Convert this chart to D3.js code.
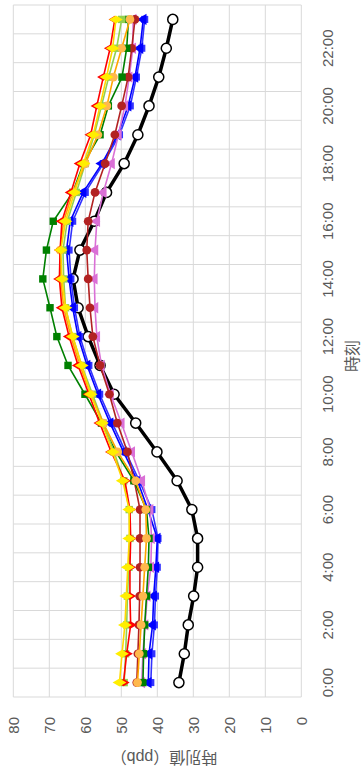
<!DOCTYPE html>
<html>
<head>
<meta charset="utf-8">
<script src="https://cdn.jsdelivr.net/npm/d3@7"></script>
<style>
  html, body { margin: 0; padding: 0; background: #ffffff; }
  svg { display: block; }
  text { font-family: "Liberation Sans", "Noto Sans CJK JP", sans-serif; fill: #595959; }
</style>
</head>
<body>
<svg id="chart" width="364" height="777"></svg>
<script>
// ---- data ----
const timeLabels = ["0:00","1:00","2:00","3:00","4:00","5:00","6:00","7:00","8:00","9:00","10:00","11:00",
                    "12:00","13:00","14:00","15:00","16:00","17:00","18:00","19:00","20:00","21:00","22:00","23:00"];
const tickLabels = ["0:00","2:00","4:00","6:00","8:00","10:00","12:00","14:00","16:00","18:00","20:00","22:00"];
const valueTicks = [0,10,20,30,40,50,60,70,80];

const seriesBlack   = [34.0,32.5,31.4,29.9,28.8,28.8,30.4,34.5,40.1,46.0,52.0,55.9,59.2,62.0,63.4,61.5,57.5,54.1,49.2,45.4,42.3,39.6,37.5,35.7];
const seriesBlue2   = [41.8,41.5,40.8,40.5,40.0,39.8,41.5,45.0,48.8,52.5,56.0,59.0,61.5,63.0,64.0,64.5,63.5,60.0,55.0,50.5,47.5,45.8,44.3,43.5];
const seriesBlue    = [42.5,42.3,41.3,41.0,40.4,40.0,42.6,45.5,49.4,53.1,56.5,59.5,62.0,63.5,64.5,65.2,64.2,60.6,55.4,51.0,48.1,46.2,44.8,43.9];
const seriesOrchid  = [44.3,44.0,43.4,42.8,41.8,41.6,42.0,44.3,47.1,50.0,53.0,55.5,56.8,57.3,57.5,57.3,56.8,55.0,52.7,50.8,49.0,47.8,46.8,46.7];
const seriesBrick   = [45.7,45.4,45.1,44.9,44.8,44.8,44.8,46.4,48.3,51.1,53.3,55.9,57.9,58.7,59.2,59.6,59.2,57.3,54.5,51.8,49.9,48.1,47.1,46.2];
const seriesGreen   = [44.0,43.8,43.5,43.0,42.5,42.3,43.0,46.5,51.5,55.5,60.1,64.8,67.9,69.8,71.8,70.8,68.9,63.5,60.5,55.9,53.6,49.8,48.5,48.0];
const seriesLtGreen = [49.2,48.8,48.5,48.3,47.9,47.6,47.8,49.3,52.0,55.0,58.0,61.0,63.5,65.5,66.0,66.2,65.0,62.5,60.0,57.5,55.5,53.5,51.3,49.9];
const seriesOrange  = [45.5,45.0,44.5,44.0,43.5,43.0,43.2,46.0,51.0,55.0,58.5,61.5,64.0,66.0,66.8,67.0,66.0,63.5,60.0,56.5,54.0,52.2,49.9,47.6];
const seriesRed     = [49.4,48.5,47.4,47.6,47.6,47.4,47.6,49.0,52.8,56.0,59.0,62.0,64.5,66.5,67.2,67.0,66.5,64.0,61.5,58.5,56.8,55.0,53.1,51.8];
const seriesYellow  = [50.5,49.8,49.0,48.6,48.2,47.8,47.8,49.6,52.4,55.4,58.5,61.0,63.5,65.5,66.5,66.8,65.5,63.0,60.5,57.8,55.9,54.1,52.4,51.5];

const series = [
  {values: seriesBlack,   color: "#000000", fill: "#ffffff", symbol: d3.symbolCircle,   size: 80, width: 3.5, mstroke: 1.5},
  {values: seriesBlue2,   color: "#3333ff", fill: "#3333ff", symbol: d3.symbolSquare,   size: 50, width: 1.6, mstroke: 0},
  {values: seriesBlue,    color: "#0000ff", fill: "#0000ff", symbol: d3.symbolTriangle, size: 55, width: 1.6, mstroke: 0},
  {values: seriesOrchid,  color: "#da70d6", fill: "#da70d6", symbol: d3.symbolTriangle, size: 55, width: 1.6, mstroke: 0},
  {values: seriesBrick,   color: "#b22222", fill: "#b22222", symbol: d3.symbolCircle,   size: 60, width: 1.6, mstroke: 0},
  {values: seriesGreen,   color: "#008000", fill: "#008000", symbol: d3.symbolSquare,   size: 55, width: 1.6, mstroke: 0},
  {values: seriesLtGreen, color: "#92d050", fill: "#92d050", symbol: d3.symbolSquare,   size: 55, width: 1.6, mstroke: 0},
  {values: seriesOrange,  color: "#ffa500", fill: "#ffb84d", symbol: d3.symbolCircle,   size: 60, width: 1.6, mstroke: 0},
  {values: seriesRed,     color: "#ff0000", fill: "#ff0000", symbol: d3.symbolDiamond,  size: 45, width: 1.6, mstroke: 0},
  {values: seriesYellow,  color: "#ffd700", fill: "#ffee00", symbol: d3.symbolDiamond,  size: 55, width: 1.6, mstroke: 0}
];

// ---- chart drawn in its original landscape frame, then rotated ----
const W = 777, H = 364;
const svg = d3.select("#chart");
const g = svg.append("g").attr("transform", `translate(0,${W}) rotate(-90)`);

const x = d3.scaleBand().domain(timeLabels).range([80, 772]).padding(0);
const y = d3.scaleLinear().domain([0, 80]).range([301.3, 13.3]);
const bw = x.bandwidth();
const cx = d => x(d) + bw / 2;

// gridlines (value)
g.append("g").selectAll("line").data(valueTicks).join("line")
  .attr("x1", 80).attr("x2", 772)
  .attr("y1", d => y(d)).attr("y2", d => y(d))
  .attr("stroke", "#d9d9d9").attr("stroke-width", 1);

// gridlines (category boundaries)
const bounds = timeLabels.map(d => x(d)).concat([x(timeLabels[timeLabels.length - 1]) + bw]);
g.append("g").selectAll("line").data(bounds).join("line")
  .attr("x1", d => d).attr("x2", d => d)
  .attr("y1", y(80)).attr("y2", y(0))
  .attr("stroke", "#d9d9d9").attr("stroke-width", 1);

// value axis labels
g.append("g").selectAll("text").data(valueTicks).join("text")
  .attr("x", 60).attr("y", d => y(d))
  .attr("text-anchor", "end").attr("dominant-baseline", "central")
  .attr("font-size", 15).text(d => d);

// category axis labels
g.append("g").selectAll("text").data(tickLabels).join("text")
  .attr("x", d => cx(d)).attr("y", 333)
  .attr("text-anchor", "middle")
  .attr("font-size", 15).text(d => d);

// axis titles
g.append("text")
  .attr("transform", "translate(20,164) rotate(-90)")
  .attr("text-anchor", "middle").attr("dominant-baseline", "central")
  .attr("font-size", 16).text("時別値（ppb）");
g.append("text")
  .attr("x", 421).attr("y", 352)
  .attr("text-anchor", "middle").attr("dominant-baseline", "central")
  .attr("font-size", 16).text("時刻");

// series
const line = d3.line().x((d, i) => cx(timeLabels[i])).y(d => y(d));
series.forEach(s => {
  const sg = g.append("g");
  sg.append("path").datum(s.values)
    .attr("d", line).attr("fill", "none")
    .attr("stroke", s.color).attr("stroke-width", s.width)
    .attr("stroke-linejoin", "round");
  sg.selectAll("path.m").data(s.values).join("path").attr("class", "m")
    .attr("transform", (d, i) => `translate(${cx(timeLabels[i])},${y(d)})`)
    .attr("d", d3.symbol().type(s.symbol).size(s.size))
    .attr("fill", s.fill)
    .attr("stroke", s.mstroke ? s.color : "none")
    .attr("stroke-width", s.mstroke);
});
</script>
</body>
</html>
